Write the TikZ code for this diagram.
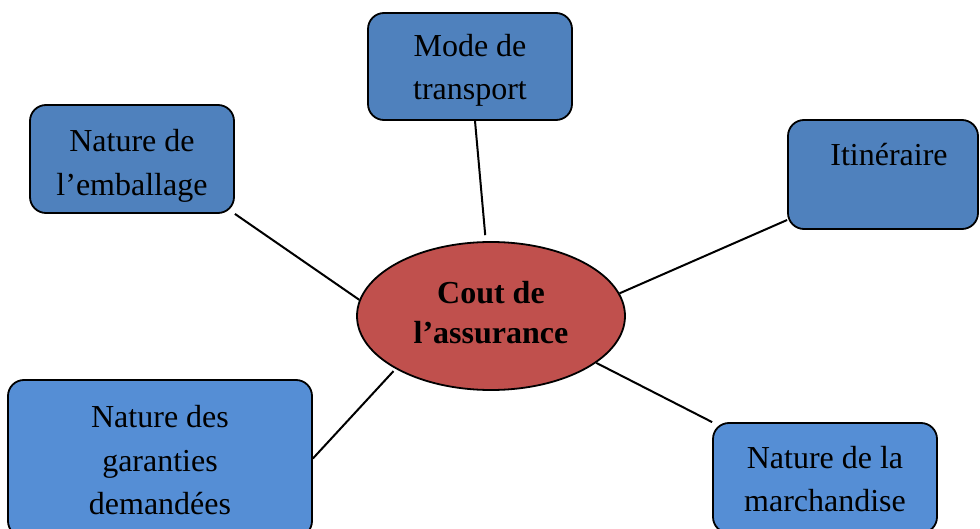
\documentclass[tikz,border=0pt]{standalone}
\usepackage{fontspec}
\setmainfont{Liberation Serif}
\usetikzlibrary{shapes.geometric,calc}
\definecolor{boxA}{RGB}{79,129,189}
\definecolor{boxB}{RGB}{85,142,213}
\definecolor{ellred}{RGB}{192,80,77}
\begin{document}
\begin{tikzpicture}[x=1pt,y=1pt,
  box/.style={draw=black,line width=1.8pt,rounded corners=16pt,inner sep=0pt,align=center,
    font=\fontsize{32}{43.5}\selectfont},
  lbl/.style={inner sep=0pt,align=center,font=\fontsize{32}{43.5}\selectfont},
  link/.style={draw=black,line width=2pt}]
\useasboundingbox (0,0) rectangle (980,528);
\fill[white] (0,0) rectangle (980,528);
\node[box,fill=boxA,minimum width=204pt,minimum height=107pt] (mode) at (470,461.5) {};
\node[lbl] (modet) at ($(mode.center)+(0,-4)$) {Mode de\\transport};
\node[box,fill=boxA,minimum width=204pt,minimum height=108pt] (emb) at (132,369) {};
\node[lbl] (embt) at ($(emb.center)+(0,-7)$) {Nature de\\l’emballage};
\node[box,fill=boxA,minimum width=190pt,minimum height=109pt] (itin) at (883,353.5) {};
\node[lbl,anchor=north] (itint) at ($(itin.north)+(6,-24)$) {Itinéraire};
\node[box,fill=boxB,minimum width=304pt,minimum height=157pt] (gar) at (160,69.5) {};
\node[lbl] (gart) at ($(gar.center)+(0,-2)$) {Nature des\\garanties\\demandées};
\node[box,fill=boxB,minimum width=224pt,minimum height=110pt] (march) at (825,50) {};
\node[lbl] (marcht) at ($(march.center)+(0,-1)$) {Nature de la\\marchandise};
\node[ellipse,draw=black,line width=1.8pt,fill=ellred,minimum width=268pt,minimum height=148pt,inner sep=0pt] (ell) at (491,212) {};
\node[lbl,font=\bfseries\fontsize{32}{40}\selectfont] (ellt) at ($(ell.center)+(0,3)$) {Cout de\\l’assurance};
\draw[link,shorten >=6pt] ($(mode.south)+(5,0)$) -- (ell.94);
\draw[link] (emb.south east) -- (ell.173);
\draw[link] ($(itin.west)+(0,-45.5)$) -- (ell.10);
\draw[link,shorten >=3pt] (gar.east) -- (ell.209);
\draw[link] (march.north west) -- (ell.336);
\end{tikzpicture}
\end{document}
